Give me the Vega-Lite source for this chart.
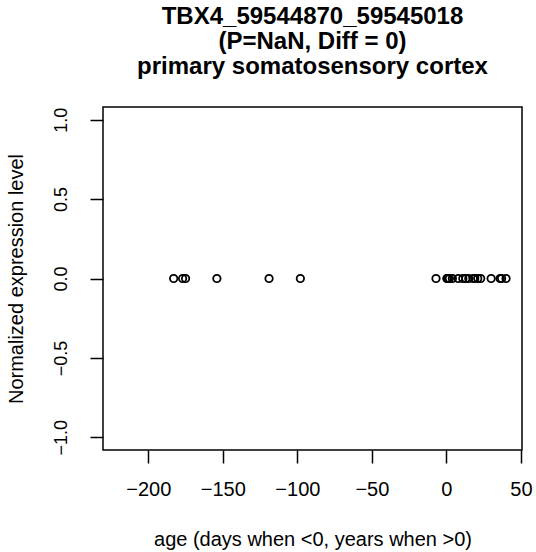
{
  "$schema": "https://vega.github.io/schema/vega-lite/v6.json",
  "autosize": "none",
  "width": 419,
  "height": 343,
  "padding": {"left": 103, "top": 107, "right": 14, "bottom": 102},
  "background": "white",
  "config": {
    "font": "Liberation Sans",
    "view": {"stroke": "black", "strokeWidth": 1.5}
  },
  "title": {
    "text": ["TBX4_59544870_59545018", "(P=NaN, Diff = 0)", "primary somatosensory cortex"],
    "font": "Liberation Sans",
    "fontSize": 24,
    "fontWeight": "bold",
    "color": "black",
    "anchor": "middle",
    "lineHeight": 25,
    "offset": 28
  },
  "data": {
    "values": [
      {"age": -183, "expr": 0},
      {"age": -177, "expr": 0},
      {"age": -175, "expr": 0},
      {"age": -154, "expr": 0},
      {"age": -119, "expr": 0},
      {"age": -98, "expr": 0},
      {"age": -7, "expr": 0},
      {"age": 0.3, "expr": 0},
      {"age": 0.6, "expr": 0},
      {"age": 1, "expr": 0},
      {"age": 2, "expr": 0},
      {"age": 4, "expr": 0},
      {"age": 8, "expr": 0},
      {"age": 11, "expr": 0},
      {"age": 13, "expr": 0},
      {"age": 15, "expr": 0},
      {"age": 18, "expr": 0},
      {"age": 19, "expr": 0},
      {"age": 21, "expr": 0},
      {"age": 23, "expr": 0},
      {"age": 30, "expr": 0},
      {"age": 36, "expr": 0},
      {"age": 37, "expr": 0},
      {"age": 40, "expr": 0}
    ]
  },
  "mark": {"type": "point", "shape": "circle", "filled": false, "stroke": "black", "strokeWidth": 1.8, "size": 55, "opacity": 1},
  "encoding": {
    "x": {
      "field": "age",
      "type": "quantitative",
      "scale": {"domain": [-230.4, 50.7], "nice": false, "zero": false},
      "axis": {
        "values": [-200, -150, -100, -50, 0, 50],
        "title": "age (days when <0, years when >0)",
        "titleFont": "Liberation Sans",
        "titleFontSize": 20,
        "titleFontWeight": "normal",
        "titleColor": "black",
        "titlePadding": 30,
        "labelFont": "Liberation Sans",
        "labelFontSize": 20,
        "labelColor": "black",
        "labelPadding": 16,
        "labelFlush": false,
        "labelExpr": "replace(datum.label, '-', '\u2212')",
        "tickSize": 13,
        "tickColor": "black",
        "tickWidth": 1.5,
        "domain": false,
        "grid": false
      }
    },
    "y": {
      "field": "expr",
      "type": "quantitative",
      "scale": {"domain": [-1.08, 1.08], "nice": false, "zero": false},
      "axis": {
        "values": [-1, -0.5, 0, 0.5, 1],
        "format": ".1f",
        "labelExpr": "replace(datum.label, '-', '\u2212')",
        "title": "Normalized expression level",
        "titleFont": "Liberation Sans",
        "titleFontSize": 20,
        "titleFontWeight": "normal",
        "titleColor": "black",
        "titlePadding": 26,
        "labelFont": "Liberation Sans",
        "labelFontSize": 18,
        "labelColor": "black",
        "labelAngle": -90,
        "labelAlign": "center",
        "labelBaseline": "bottom",
        "labelPadding": 20,
        "labelFlush": false,
        "tickSize": 13,
        "tickColor": "black",
        "tickWidth": 1.5,
        "domain": false,
        "grid": false
      }
    }
  }
}
